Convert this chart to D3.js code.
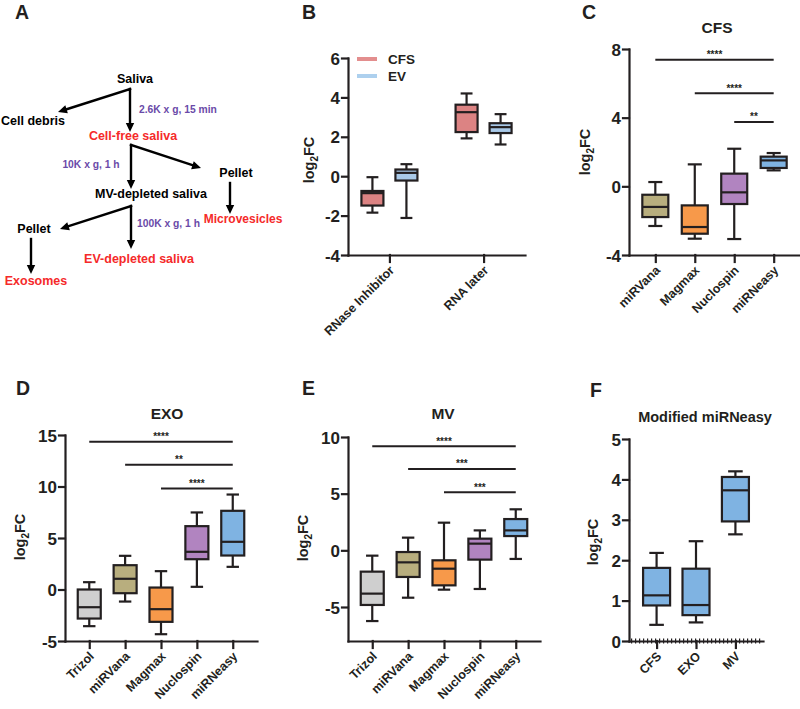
<!DOCTYPE html>
<html><head><meta charset="utf-8">
<script src="https://cdn.jsdelivr.net/npm/d3@7"></script>
<style>
body{margin:0;background:#fff}
text{font-family:"Liberation Sans",Arial,Helvetica,sans-serif;font-weight:bold}
</style>
</head><body>
<svg id="chart" width="800" height="709"></svg>
<script>
// ---------------- DATA ----------------
// five-number summaries: [min, q1, median, q3, max]
const bCategories = ["RNase Inhibitor", "RNA later"];
const bSeries = ["CFS", "EV"];
const bCFS = [[-1.85, -1.49, -0.86, -0.75, -0.05], [1.92, 2.24, 3.25, 3.63, 4.2]];
const bEV  = [[-2.12, -0.22, 0.17, 0.34, 0.61], [1.61, 2.19, 2.49, 2.69, 3.15]];
const bTicks = [-4, -2, 0, 2, 4, 6];

const cCategories = ["miRVana", "Magmax", "Nuclospin", "miRNeasy"];
const cValues = [
  [-2.31, -1.79, -1.2, -0.49, 0.25],
  [-3.05, -2.76, -2.37, -1.11, 1.28],
  [-3.07, -1.03, -0.35, 0.74, 2.19],
  [0.93, 1.07, 1.51, 1.73, 1.94]
];
const cTicks = [-4, 0, 4, 8];
const cSig = [
  {from: "miRVana", to: "miRNeasy", y: 7.38, label: "****"},
  {from: "Magmax", to: "miRNeasy", y: 5.42, label: "****"},
  {from: "Nuclospin", to: "miRNeasy", y: 3.75, label: "**"}
];

const deCategories = ["Trizol", "miRVana", "Magmax", "Nuclospin", "miRNeasy"];
const dValues = [
  [-3.56, -2.82, -1.72, 0.0, 0.71],
  [-1.17, -0.36, 1.04, 2.36, 3.27],
  [-4.34, -3.14, -1.91, 0.19, 1.78],
  [0.26, 2.94, 3.66, 6.15, 7.48],
  [2.2, 3.3, 4.63, 7.64, 9.22]
];
const dTicks = [-5, 0, 5, 10, 15];
const dSig = [
  {from: "Trizol", to: "miRNeasy", y: 14.34, label: "****"},
  {from: "miRVana", to: "miRNeasy", y: 12.1, label: "**"},
  {from: "Magmax", to: "miRNeasy", y: 9.8, label: "****"}
];

const eValues = [
  [-6.24, -4.82, -3.82, -1.88, -0.47],
  [-4.18, -2.35, -1.06, -0.15, 1.12],
  [-3.47, -3.09, -1.62, -0.88, 2.44],
  [-3.41, -0.82, 0.59, 1.03, 1.76],
  [-0.76, 1.26, 1.76, 2.76, 3.62]
];
const eTicks = [-5, 0, 5, 10];
const eSig = [
  {from: "Trizol", to: "miRNeasy", y: 9.18, label: "****"},
  {from: "miRVana", to: "miRNeasy", y: 7.18, label: "***"},
  {from: "Magmax", to: "miRNeasy", y: 5.12, label: "***"}
];

const fCategories = ["CFS", "EXO", "MV"];
const fValues = [
  [0.40, 0.88, 1.13, 1.81, 2.18],
  [0.46, 0.64, 0.89, 1.79, 2.47],
  [2.64, 2.96, 3.73, 4.06, 4.2]
];
const fTicks = [0, 1, 2, 3, 4, 5];

// ---------------- STYLE ----------------
const ink = "#231f20";
const methodColors = {Trizol: "#cfcfcf", miRVana: "#b8ae7e", Magmax: "#f7994a", Nuclospin: "#b184c0", miRNeasy: "#7fb3e2"};
const seriesColors = {CFS: "#dc8383", EV: "#a9c9e8"};
const legendColors = {CFS: "#e38e8e", EV: "#add0ee"};
const modColor = "#7fb3e2";
const red = "#f52a2a", purple = "#6a4aa8";

const svg = d3.select("#chart");

// ---------------- PANEL A (flow diagram) ----------------
function arrow(x1, y1, x2, y2) {
  const dx = x2 - x1, dy = y2 - y1, L = Math.hypot(dx, dy);
  const ux = dx / L, uy = dy / L, hl = 9, hw = 4.2;
  svg.append("line").attr("x1", x1).attr("y1", y1)
    .attr("x2", x2 - ux * (hl - 2)).attr("y2", y2 - uy * (hl - 2))
    .attr("stroke", "#000").attr("stroke-width", 2.4).attr("stroke-linecap", "square");
  const bx = x2 - ux * hl, by = y2 - uy * hl;
  svg.append("path").attr("d", `M${x2},${y2}L${bx - uy * hw},${by + ux * hw}L${bx + uy * hw},${by - ux * hw}Z`).attr("fill", "#000");
}
function label(t, x, y, color, size, anchor) {
  svg.append("text").attr("x", x).attr("y", y).attr("fill", color)
    .attr("font-size", size).attr("text-anchor", anchor || "middle").text(t);
}
label("Saliva", 135, 83, "#000", 12.5);
label("Cell debris", 33, 125, "#000", 12.5);
label("2.6K x g, 15 min", 139, 113, purple, 10.3, "start");
label("Cell-free saliva", 133, 140, red, 12.5);
label("10K x g, 1 h", 91, 168, purple, 10.3);
label("Pellet", 236, 177, "#000", 12.5);
label("Microvesicles", 243, 223, red, 12);
label("MV-depleted saliva", 151, 198, "#000", 12.5);
label("100K x g, 1 h", 137, 227, purple, 10.3, "start");
label("Pellet", 34, 233, "#000", 12.5);
label("EV-depleted saliva", 139, 263, red, 12.5);
label("Exosomes", 36, 285, red, 12.5);
arrow(130, 89, 130, 132);
arrow(130, 89, 58, 112);
arrow(131, 145, 131, 189);
arrow(131, 145, 201, 168);
arrow(230, 183, 230, 214);
arrow(131, 206, 131, 249);
arrow(131, 206, 60, 229);
arrow(31, 239, 31, 274);

// ---------------- PANEL LETTERS ----------------
[["A", 15, 19], ["B", 302, 19], ["C", 582, 19], ["D", 16, 395], ["E", 302, 395], ["F", 590, 397]]
  .forEach(([t, x, y]) => svg.append("text").attr("x", x).attr("y", y).attr("font-size", 19.5).attr("fill", ink).text(t));

// ---------------- GENERIC BOX PANEL ----------------
function panel(p) {
  const g = svg.append("g");
  const x = d3.scalePoint().domain(p.cats).range([p.left, p.right]).padding(p.pad);
  const y = d3.scaleLinear().domain(p.domain).range([p.bottom, p.top]);
  const ya = g.append("g").attr("transform", `translate(${p.left},0)`)
    .call(d3.axisLeft(y).tickValues(p.ticks).tickSize(6).tickPadding(2).tickSizeOuter(0).tickFormat(d => String(d)));
  const xa = g.append("g").attr("transform", `translate(0,${p.bottom})`)
    .call(d3.axisBottom(x).tickSize(7).tickSizeOuter(0));
  [ya, xa].forEach(a => {
    a.attr("color", ink);
    a.selectAll("path,line").attr("stroke-width", 2.2).attr("stroke-linecap", "square");
  });
  ya.selectAll("text").attr("font-size", 17).style("font-family", "Liberation Sans, Arial").attr("font-weight", "bold").attr("dy", "0.36em");
  xa.selectAll("text").attr("x", 0).attr("y", 0).attr("dy", 0)
    .attr("text-anchor", "end").attr("font-size", 12.5)
    .style("font-family", "Liberation Sans, Arial").attr("font-weight", "bold")
    .attr("transform", "translate(5,16) rotate(-45)");
  // y label
  const yl = g.append("text").attr("transform", `translate(${p.ylx},${p.yly}) rotate(-90)`)
    .attr("text-anchor", "middle").attr("font-size", 14.5).attr("fill", ink);
  yl.append("tspan").text("log");
  yl.append("tspan").attr("font-size", 10).attr("dy", 4).text("2");
  yl.append("tspan").attr("dy", -4).text("FC");
  if (p.title) {
    g.append("text").attr("x", p.titleX).attr("y", p.titleY).attr("text-anchor", "middle")
      .attr("font-size", p.titleSize || 15.5).attr("fill", ink).text(p.title);
  }
  return {g, x, y};
}

function drawBoxes(g, y, data, centers, w, colors) {
  data.forEach((d, i) => {
    const cx = centers[i], c = colors[i];
    const [mn, q1, md, q3, mx] = d;
    const bg = g.append("g").attr("stroke", ink).attr("stroke-width", 2.2);
    bg.append("line").attr("x1", cx).attr("x2", cx).attr("y1", y(mx)).attr("y2", y(mn));
    bg.append("line").attr("x1", cx - w * 0.27).attr("x2", cx + w * 0.27).attr("y1", y(mx)).attr("y2", y(mx));
    bg.append("line").attr("x1", cx - w * 0.27).attr("x2", cx + w * 0.27).attr("y1", y(mn)).attr("y2", y(mn));
    bg.append("rect").attr("x", cx - w / 2).attr("width", w).attr("y", y(q3)).attr("height", y(q1) - y(q3)).attr("fill", c);
    bg.append("line").attr("x1", cx - w / 2).attr("x2", cx + w / 2).attr("y1", y(md)).attr("y2", y(md));
  });
}

function drawSig(g, x, y, sig) {
  sig.forEach(s => {
    const x1 = x(s.from), x2 = x(s.to), yy = y(s.y);
    g.append("line").attr("x1", x1).attr("x2", x2).attr("y1", yy).attr("y2", yy)
      .attr("stroke", ink).attr("stroke-width", 2);
    g.append("text").attr("x", (x1 + x2) / 2).attr("y", yy - 1.5).attr("text-anchor", "middle")
      .attr("font-size", 10).attr("fill", ink).text(s.label);
  });
}

// ---------------- PANEL B ----------------
{
  const P = panel({cats: bCategories, left: 348, right: 525, pad: 0.44, domain: [-4, 6], top: 58, bottom: 255,
    ticks: bTicks, ylx: 314, yly: 160});
  const off = {CFS: -17, EV: 17};
  bSeries.forEach(s => {
    const data = s === "CFS" ? bCFS : bEV;
    drawBoxes(P.g, P.y, data, bCategories.map(c => P.x(c) + off[s]), 22, data.map(() => seriesColors[s]));
  });
  bSeries.forEach((s, i) => {
    P.g.append("line").attr("x1", 357).attr("x2", 377).attr("y1", 59 + i * 17).attr("y2", 59 + i * 17)
      .attr("stroke", legendColors[s]).attr("stroke-width", 4);
    P.g.append("text").attr("x", 388).attr("y", 64 + i * 17).attr("font-size", 13.5).attr("fill", ink).text(s);
  });
}

// ---------------- PANEL C ----------------
{
  const P = panel({cats: cCategories, left: 629, right: 800, pad: 0.667, domain: [-4, 8], top: 49, bottom: 255,
    ticks: cTicks, ylx: 590, yly: 152, title: "CFS", titleX: 717, titleY: 33});
  drawBoxes(P.g, P.y, cValues, cCategories.map(c => P.x(c)), 26, cCategories.map(c => methodColors[c]));
  drawSig(P.g, P.x, P.y, cSig);
}

// ---------------- PANEL D ----------------
{
  const P = panel({cats: deCategories, left: 65, right: 257, pad: 0.676, domain: [-5, 15], top: 435, bottom: 641,
    ticks: dTicks, ylx: 25, yly: 537, title: "EXO", titleX: 167, titleY: 419});
  drawBoxes(P.g, P.y, dValues, deCategories.map(c => P.x(c)), 23, deCategories.map(c => methodColors[c]));
  drawSig(P.g, P.x, P.y, dSig);
}

// ---------------- PANEL E ----------------
{
  const P = panel({cats: deCategories, left: 348, right: 540, pad: 0.676, domain: [-8, 10], top: 437, bottom: 641,
    ticks: eTicks, ylx: 308, yly: 538, title: "MV", titleX: 443, titleY: 419});
  drawBoxes(P.g, P.y, eValues, deCategories.map(c => P.x(c)), 23, deCategories.map(c => methodColors[c]));
  drawSig(P.g, P.x, P.y, eSig);
}

// ---------------- PANEL F ----------------
{
  const P = panel({cats: fCategories, left: 629, right: 763, pad: 0.7, domain: [0, 5], top: 439, bottom: 641,
    ticks: fTicks, ylx: 598, yly: 542, title: "Modified miRNeasy", titleX: 705, titleY: 422, titleSize: 14.5});
  P.g.append("line").attr("x1", 631).attr("x2", 763).attr("y1", P.y(0)).attr("y2", P.y(0))
    .attr("stroke", ink).attr("stroke-width", 5).attr("stroke-dasharray", "1.2 2.8");
  drawBoxes(P.g, P.y, fValues, fCategories.map(c => P.x(c)), 27, fValues.map(() => modColor));
}
</script>
</body></html>
